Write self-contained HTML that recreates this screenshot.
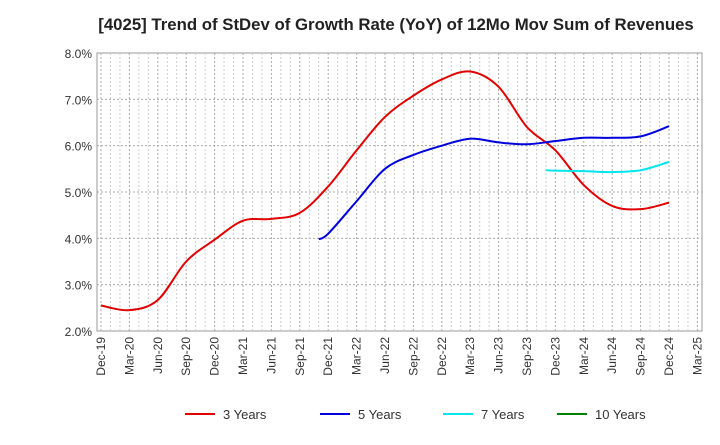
<!DOCTYPE html>
<html><head><meta charset="utf-8"><style>
body{margin:0;background:#fff;font-family:"Liberation Sans",sans-serif}
</style></head><body>
<svg id="c" width="720" height="440" xmlns="http://www.w3.org/2000/svg" font-family="Liberation Sans, sans-serif">
<text x="396" y="30" text-anchor="middle" font-size="16.8" font-weight="bold" fill="#222">[4025]  Trend of StDev of Growth Rate (YoY) of 12Mo Mov Sum of Revenues</text>
<g id="grid"></g><g id="axes"></g><g id="series"></g><g id="legend"></g>
</svg>
<script>
const xLabels=["Dec-19","Mar-20","Jun-20","Sep-20","Dec-20","Mar-21","Jun-21","Sep-21","Dec-21","Mar-22","Jun-22","Sep-22","Dec-22","Mar-23","Jun-23","Sep-23","Dec-23","Mar-24","Jun-24","Sep-24","Dec-24","Mar-25"];
const yTicks=[2,3,4,5,6,7,8];
const months3=[0,3,6,9,12,15,18,21,24,27,30,33,36,39,42,45,48,51,54,57,60];
const vals3=[2.55,2.45,2.67,3.5,3.97,4.38,4.42,4.55,5.12,5.9,6.62,7.08,7.43,7.6,7.27,6.4,5.9,5.15,4.7,4.63,4.77];
const months5=[23,24,27,30,33,36,39,42,45,48,51,54,57,60];
const vals5=[3.98,4.1,4.8,5.5,5.8,6.0,6.15,6.07,6.03,6.1,6.17,6.17,6.2,6.42];
const months7=[47,48,51,54,57,60];
const vals7=[5.47,5.46,5.45,5.43,5.47,5.65];
const months10=[];const vals10=[];
const L=97,R=702,T=53,B=331,X0=101,DX=28.4/3;
const xs=m=>X0+m*DX, ys=v=>B-(v-2)/6*(B-T);
const NS="http://www.w3.org/2000/svg";
function mk(p,t,a){const e=document.createElementNS(NS,t);for(const k in a)e.setAttribute(k,a[k]);document.getElementById(p).appendChild(e);return e;}
let r=mk('grid','rect',{x:L,y:T,width:R-L,height:B-T,fill:'#fff',stroke:'#999'});

yTicks.forEach(v=>{const y=ys(v);
 if(v>2&&v<8){const g=mk('grid','line',{x1:L,x2:R,y1:y,y2:y,stroke:'#aaa','stroke-dasharray':'2,2'});}
 const t=mk('axes','text',{x:L-5,y:y+5,'text-anchor':'end','font-size':12,fill:'#333'});t.textContent=v.toFixed(1)+'%';
 });
xLabels.forEach((s,i)=>{const x=xs(i*3);
 const g=mk('grid','line',{x1:x,x2:x,y1:T,y2:B,stroke:'#aaa','stroke-dasharray':'2,2'});
 for(let k=1;k<3;k++){const xm=x+k*DX;if(xm<R){const gm=mk('grid','line',{x1:xm,x2:xm,y1:T,y2:B,stroke:'#ccc','stroke-dasharray':'2,2'});}}
 const t=mk('axes','text',{transform:`translate(${x+4},${B+6}) rotate(-90)`,'text-anchor':'end','font-size':12,fill:'#333'});t.textContent=s;
 });
function path(ms,vs){const p=ms.map((m,i)=>[xs(m),ys(vs[i])]);if(!p.length)return'';let d=`M${p[0][0]},${p[0][1]}`;
 for(let i=0;i<p.length-1;i++){const a=p[i-1]||p[i],b=p[i],c=p[i+1],e=p[i+2]||c;
 d+=` C${b[0]+(c[0]-a[0])/6},${b[1]+(c[1]-a[1])/6} ${c[0]-(e[0]-b[0])/6},${c[1]-(e[1]-b[1])/6} ${c[0]},${c[1]}`;}return d;}
const S=[["3 Years","#e00000",months3,vals3,185],["5 Years","#0000dd",months5,vals5,320],["7 Years","#00e5ee",months7,vals7,443],["10 Years","#008000",months10,vals10,557]];
S.forEach(([n,c,ms,vs,lx])=>{
 if(ms.length){const p=mk('series','path',{d:path(ms,vs),fill:'none',stroke:c,'stroke-width':2});}
 const l=mk('legend','line',{x1:lx,x2:lx+30,y1:414,y2:414,stroke:c,'stroke-width':2});
 const t=mk('legend','text',{x:lx+38,y:419,'font-size':13,fill:'#333'});t.textContent=n;});
</script></body></html>
